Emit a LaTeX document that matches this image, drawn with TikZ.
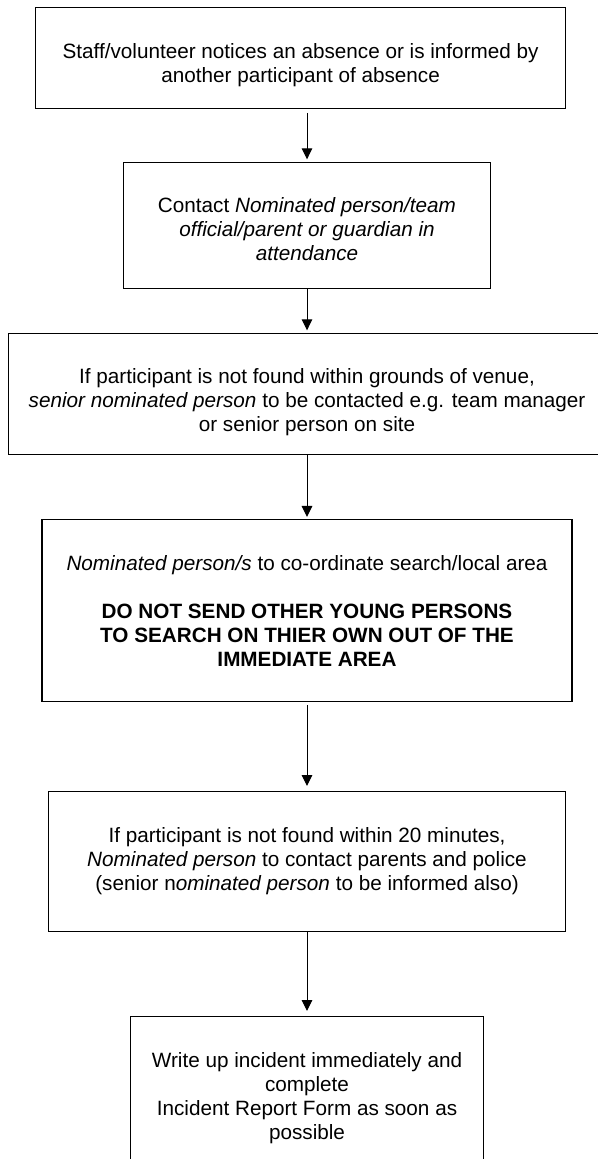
\documentclass[tikz,border=0pt]{standalone}
\usepackage{fontspec}
\setmainfont{Liberation Sans}
\usetikzlibrary{arrows.meta}
\tikzset{
  stepbox/.style={draw, line width=0.55pt, inner sep=0pt, anchor=north},
}
\newcommand{\steptext}[3]{\parbox[t][#2][t]{#1}{\fontsize{10.35}{12}\selectfont\centering\vspace*{16.85pt}\strut#3}}
\begin{document}
\begin{tikzpicture}
      \useasboundingbox (0,0) rectangle (299pt,-579.5pt);
      \node[stepbox] (notice) at (150.3pt,-3.65pt)
        {\steptext{265pt}{50.35pt}{Staff/volunteer notices an absence or is informed by\\another participant of absence}};
      \node[stepbox] (contact) at (153.5pt,-80.85pt)
        {\steptext{183.5pt}{63.15pt}{Contact \textit{Nominated person/team}\\\textit{official/parent or guardian in}\\\textit{attendance}}};
      \node[stepbox] (venue) at (153.5pt,-166.35pt)
        {\steptext{298.6pt}{60.8pt}{If participant is not found within grounds of venue,\\\textit{senior nominated person} to be contacted e.g. team manager\\or senior person on site}};
      \node[stepbox] (search) at (153.5pt,-259.65pt)
        {\steptext{265pt}{90.7pt}{\textit{Nominated person/s} to co-ordinate search/local area\\[12pt]\textbf{DO NOT SEND OTHER YOUNG PERSONS}\\\textbf{TO SEARCH ON THIER OWN OUT OF THE}\\\textbf{IMMEDIATE AREA}}};
      \node[stepbox] (police) at (153.5pt,-395.5pt)
        {\steptext{258.5pt}{70pt}{If participant is not found within 20 minutes,\\\textit{Nominated person} to contact parents and police\\(senior n\textit{ominated person} to be informed also)}};
      \node[stepbox] (report) at (153.5pt,-508pt)
        {\steptext{176.4pt}{82pt}{Write up incident immediately and\\complete\\Incident Report Form as soon as\\possible}};
      \begin{scope}[-{Triangle[length=5.5pt,width=5.3pt]}, line width=0.5pt, shorten >=1.2pt]
        \draw[shorten <=1.85pt] (notice.south -| contact.north) to (contact);
        \draw (contact) to (venue);
        \draw (venue) to (search);
        \draw[shorten <=1.65pt, shorten >=2.5pt] (search) to (police);
        \draw[shorten >=2.5pt] (police) to (report);
      \end{scope}
    \end{tikzpicture}
\end{document}
